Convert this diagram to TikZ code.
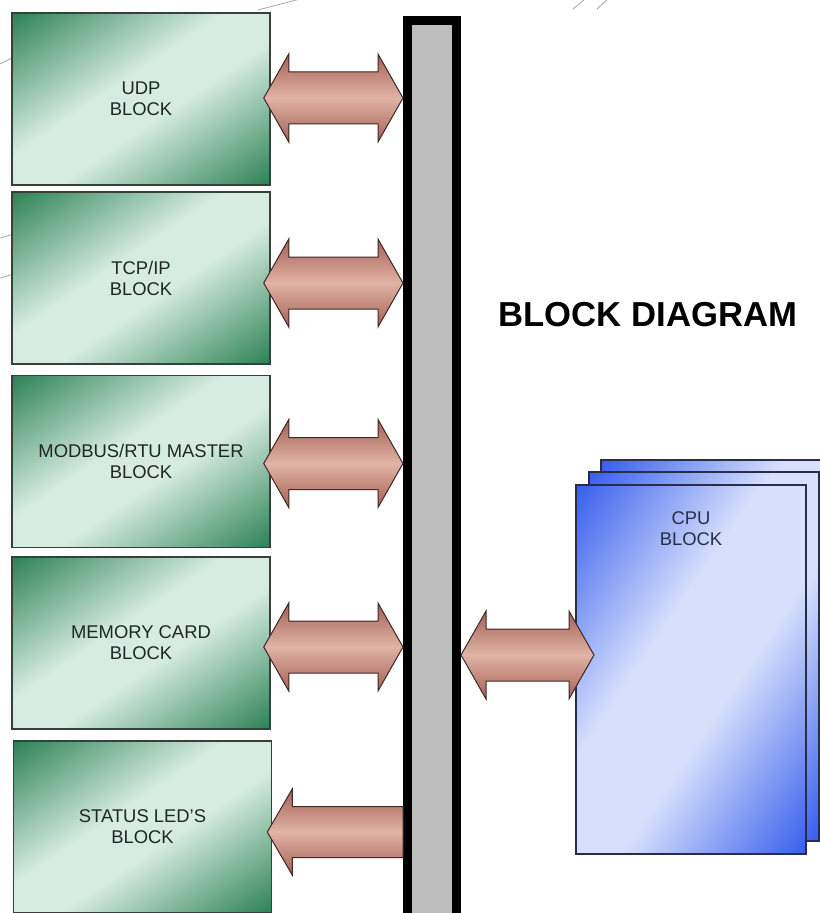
\documentclass[tikz,border=0pt]{standalone}
\usepackage{fontspec}
\setmainfont{Liberation Sans}
\usetikzlibrary{calc}
\definecolor{gdark}{RGB}{38,125,78}
\definecolor{glight}{RGB}{214,236,226}
\definecolor{bdark}{RGB}{48,88,236}
\definecolor{blight}{RGB}{214,224,252}
\definecolor{arrdark}{RGB}{165,95,84}
\definecolor{arrlight}{RGB}{224,180,166}
\definecolor{arrline}{RGB}{60,40,36}
\definecolor{blkline}{RGB}{55,65,60}
\definecolor{cpuline}{RGB}{40,45,72}
\definecolor{buscol}{RGB}{190,190,190}
\definecolor{txtcol}{RGB}{32,38,38}
\definecolor{faint}{RGB}{165,165,165}
\newcommand{\pxu}{0.75pt}
\pgfdeclarehorizontalshading{greenblk}{100bp}{color(0bp)=(gdark); color(14bp)=(gdark); color(44bp)=(glight); color(56bp)=(glight); color(86bp)=(gdark); color(100bp)=(gdark)}
\pgfdeclarehorizontalshading{blueblk}{100bp}{color(0bp)=(bdark); color(14bp)=(bdark); color(42bp)=(blight); color(58bp)=(blight); color(86bp)=(bdark); color(100bp)=(bdark)}
\tikzset{
  block/.style={rectangle, draw=blkline, line width=1.5*\pxu, shading=greenblk, shading angle=-56, minimum width=258*\pxu, minimum height=172*\pxu, align=center, text=txtcol, font=\fontsize{13.8}{15.75}\selectfont},
  cpublk/.style={rectangle, draw=cpuline, line width=2*\pxu, shading=blueblk, shading angle=-34, minimum width=230*\pxu, minimum height=369*\pxu},
  cputext/.style={align=center, text=cpuline, font=\fontsize{13.8}{15.75}\selectfont},
  bus/.style={rectangle, draw=black, fill=buscol, line width=9*\pxu, minimum width=49*\pxu, minimum height=919*\pxu, inner sep=0pt},
  busarrow/.style={draw=arrline, line width=1*\pxu, line join=miter, top color=arrdark, bottom color=arrdark, middle color=arrlight},
  heading/.style={font=\fontsize{26}{30}\selectfont\bfseries, text=black},
  faintline/.style={draw=faint, line width=0.8*\pxu}
}
% double block arrow between two tips
\newcommand{\dblarrow}[2]{%
  \path[busarrow] (#1) -- ++(25,-44) -- ++(0,18) -- ($(#2)+(-25,-26)$) -- ++(0,-18) -- (#2)
    -- ++(-25,44) -- ++(0,-18) -- ($(#1)+(25,26)$) -- ++(0,18) -- cycle;}

\begin{document}
\begin{tikzpicture}[x=\pxu, y=-\pxu]
  \useasboundingbox (0,0) rectangle (820,913);

  % background strokes
  \draw[faintline] (258,10) -- (300,-1);
  \draw[faintline] (0,64) -- (14,57);
  \draw[faintline] (0,238) -- (14,234);
  \draw[faintline] (0,278) -- (14,274);
  \draw[faintline] (573,9) -- (585,-1);
  \draw[faintline] (597,9) -- (608,-1);

  % Blocks
  \node[block] (udp) at (141,99) {UDP\\BLOCK};
  \node[block] (tcp) at (141,278) {TCP/IP\\BLOCK};
  \node[block] (modbus) at (141,461.5) {MODBUS/RTU MASTER\\BLOCK};
  \node[block] (memcard) at (141,643) {MEMORY CARD\\BLOCK};
  \node[block] (status) at (142.5,827) {STATUS LED'S\\BLOCK};

  % Bus
  \node[bus] (bus) at (432,480) {};

  % CPU stack
  \node[cpublk] (cpuback) at (716,644) {};
  \node[cpublk] (cpumid) at (703.5,656.5) {};
  \node[cpublk] (cpu) at (691,669.5) {};
  \node[cputext] (cpulabel) at ($(cpu.north)+(0,45)$) {CPU\\BLOCK};

  % Bus arrows
  \coordinate (udpL) at ($(udp.east)+(-7,-1)$);
  \coordinate (udpR) at (bus.west |- udpL);
  \dblarrow{udpL}{udpR}
  \coordinate (tcpL) at ($(tcp.east)+(-7,5)$);
  \coordinate (tcpR) at (bus.west |- tcpL);
  \dblarrow{tcpL}{tcpR}
  \coordinate (modbusL) at ($(modbus.east)+(-7,2)$);
  \coordinate (modbusR) at (bus.west |- modbusL);
  \dblarrow{modbusL}{modbusR}
  \coordinate (memcardL) at ($(memcard.east)+(-7,4)$);
  \coordinate (memcardR) at (bus.west |- memcardL);
  \dblarrow{memcardL}{memcardR}
  \coordinate (cpuR) at ($(cpu.west)+(19,-14.5)$);
  \coordinate (cpuL) at (bus.east |- cpuR);
  \dblarrow{cpuL}{cpuR}

  % Status arrow (one way)
  \coordinate (statusL) at ($(status.east)+(-5,5)$);
  \coordinate (statusR) at (bus.west |- statusL);
  \path[busarrow] (statusL) -- ++(25,-43) -- ++(0,17.5) -- ($(statusR)+(0,-25.5)$)
    -- ($(statusR)+(0,25.5)$) -- ($(statusL)+(25,25.5)$) -- ++(0,17.5) -- cycle;

  \node[heading] (title) at (648,315) {BLOCK DIAGRAM};
\end{tikzpicture}
\end{document}
